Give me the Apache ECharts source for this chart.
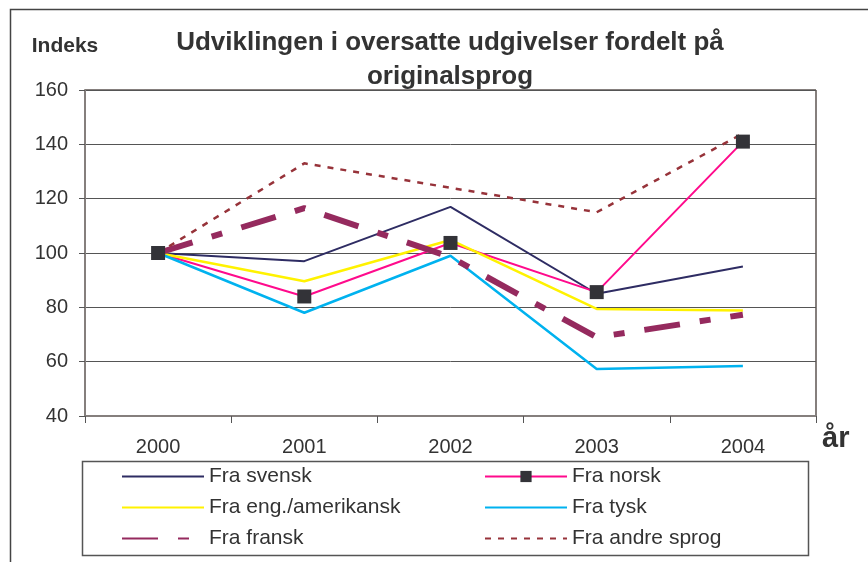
<!DOCTYPE html>
<html>
<head>
<meta charset="utf-8">
<title>Udviklingen i oversatte udgivelser</title>
<script src="https://cdn.jsdelivr.net/npm/echarts@6/dist/echarts.min.js"></script>
<style>
html,body{margin:0;padding:0;background:#fff;}
#main{width:868px;height:562px;}
</style>
</head>
<body>
<div id="main"></div>
<script>
// data
var years = ['2000', '2001', '2002', '2003', '2004'];
var svensk = [100, 97, 117, 85, 95];
var norsk = [100, 84, 103.7, 85.6, 141];
var engAm = [100, 89.6, 104.8, 79.4, 78.8];
var tysk = [100, 78, 99, 57.3, 58.4];
var fransk = [100, 116.5, 98.5, 69, 77.3];
var andre = [100, 133, 124, 115, 144];

var font = 'Liberation Sans, Arial, sans-serif';

var chart = echarts.init(document.getElementById('main'));

function line(name, data, color, width, type) {
	return {
		name: name,
		type: 'line',
		data: data,
		symbol: 'none',
		lineStyle: {color: color, width: width, type: type},
		itemStyle: {color: color},
		animation: false
	};
}

var norskSeries = line('Fra norsk', norsk, '#ff0a8c', 2, 'solid');
norskSeries.symbol = 'rect';
norskSeries.symbolSize = 14;
norskSeries.itemStyle = {color: '#333338'};

var legendText = {fontFamily: font, fontSize: 21, color: '#333'};

// symbol-less series: hide the legend marker, keep the line
function legendItems(names) {
	return names.map(function (n) {
		return n === 'Fra norsk' ? {name: n, itemStyle: {opacity: 1}} : {name: n};
	});
}

var legendBase = {
	orient: 'vertical',
	top: 461,
	itemWidth: 82,
	itemHeight: 14,
	itemGap: 10,
	itemStyle: {opacity: 0},
	textStyle: legendText
};

var option = {
	backgroundColor: '#fff',
	title: {
		text: 'Udviklingen i oversatte udgivelser fordelt på\noriginalsprog',
		left: 445,
		top: 21,
		textAlign: 'center',
		textStyle: {fontFamily: font, fontSize: 26, fontWeight: 'bold', color: '#333', lineHeight: 34}
	},
	grid: {left: 85, right: 52, top: 90, bottom: 146},
	xAxis: {
		type: 'category',
		data: years,
		boundaryGap: true,
		name: 'år',
		nameLocation: 'end',
		nameGap: 6,
		nameTextStyle: {fontFamily: font, fontSize: 29, fontWeight: 'bold', color: '#333', verticalAlign: 'top', padding: [8, 0, 0, 0]},
		axisLine: {lineStyle: {color: '#857f7d', width: 2}},
		axisTick: {show: true, length: 7, lineStyle: {color: '#555', width: 1}},
		axisLabel: {fontFamily: font, fontSize: 20, color: '#333', margin: 21}
	},
	yAxis: {
		type: 'value',
		min: 40,
		max: 160,
		interval: 20,
		name: 'Indeks',
		nameLocation: 'end',
		nameGap: 33,
		nameTextStyle: {fontFamily: font, fontSize: 21, fontWeight: 'bold', color: '#333', align: 'center', padding: [0, 40, 0, 0]},
		axisLine: {show: true, lineStyle: {color: '#857f7d', width: 2}},
		axisTick: {show: true, length: 6, lineStyle: {color: '#555'}},
		axisLabel: {fontFamily: font, fontSize: 20, color: '#333', margin: 17},
		splitLine: {lineStyle: {color: '#555', width: 1}}
	},
	legend: [
		Object.assign({left: 116, data: legendItems(['Fra svensk', 'Fra eng./amerikansk', 'Fra fransk'])}, legendBase),
		Object.assign({left: 479, data: legendItems(['Fra norsk', 'Fra tysk', 'Fra andre sprog'])}, legendBase)
	],
	graphic: [
		{type: 'rect', left: 8, top: 7, shape: {width: 900, height: 600}, style: {fill: 'none', stroke: '#444', lineWidth: 1.5}, silent: true, z: -1},
		{type: 'rect', left: 80, top: 459, shape: {width: 726, height: 94}, style: {fill: 'none', stroke: '#555', lineWidth: 1.5}, silent: true},
		{type: 'line', shape: {x1: 816, y1: 90, x2: 816, y2: 416}, style: {stroke: '#857f7d', lineWidth: 2}, silent: true},
		{type: 'line', shape: {x1: 85, y1: 90, x2: 816, y2: 90}, style: {stroke: '#857f7d', lineWidth: 2}, silent: true}
	],
	series: [
		line('Fra svensk', svensk, '#2e2c63', 2, 'solid'),
		norskSeries,
		line('Fra eng./amerikansk', engAm, '#fff200', 2.5, 'solid'),
		line('Fra tysk', tysk, '#00b2ef', 2.5, 'solid'),
		line('Fra fransk', fransk, '#952a5e', 6, [36, 20, 11, 20]),
		line('Fra andre sprog', andre, '#97333a', 2.5, [6, 7])
	]
};

chart.setOption(option);
</script>
</body>
</html>
